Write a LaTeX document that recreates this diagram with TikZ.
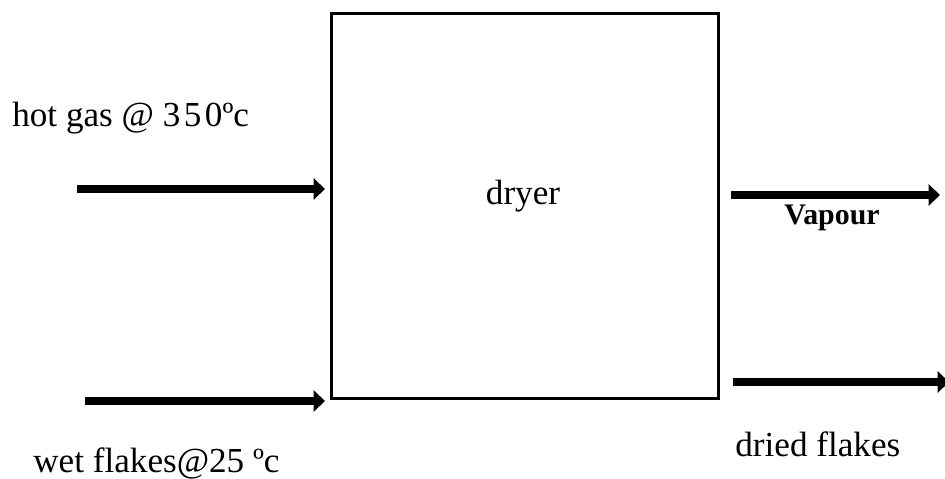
\documentclass[tikz,border=0pt]{standalone}
\usepackage{fontspec}
\setmainfont{Liberation Serif}
\usetikzlibrary{arrows.meta, positioning}

\begin{document}
\begin{tikzpicture}[
  x=0.02cm, y=-0.02cm,
  unit/.style={rectangle, draw=black, line width=1.7pt, minimum width=7.76cm,
               minimum height=7.72cm, inner sep=0pt},
  lbl/.style={font=\fontsize{20}{24}\selectfont, inner sep=0pt},
  flow/.style={-{Triangle[length=6.5pt, width=12pt]}, line width=5pt, color=black}
]
  \useasboundingbox (0,0) rectangle (945,479);
  \node[unit] (dryer) at (525,206) {};
  \node[lbl] (dryertxt) at (523,196) {dryer};
  % streams in
  \coordinate (gasin) at (77,189);
  \coordinate (gasend) at (325,189);
  \coordinate (wetin) at (85,401);
  \coordinate (wetend) at (325,401);
  % streams out
  \coordinate (vapstart) at (731,195);
  \coordinate (vapout) at (940,195);
  \coordinate (drystart) at (733,382);
  \coordinate (dryout) at (949,382);
  \node[lbl, anchor=west] (gas) at (12,118) {hot gas @ 3\kern2pt5\kern2pt0ºc};
  \node[lbl, anchor=west] (wet) at (33,463) {wet flakes@25 ºc};
  \node[lbl, anchor=west] (dried) at (735,444) {dried flakes};
  \node[font=\fontsize{17}{20}\selectfont\bfseries, inner sep=0pt] (vap) at (832,218) {Vapour};
  \draw[flow] (gasin)--(gasend);
  \draw[flow] (wetin)--(wetend);
  \draw[flow] (vapstart)--(vapout);
  \draw[flow] (drystart)--(dryout);
\end{tikzpicture}
\end{document}
